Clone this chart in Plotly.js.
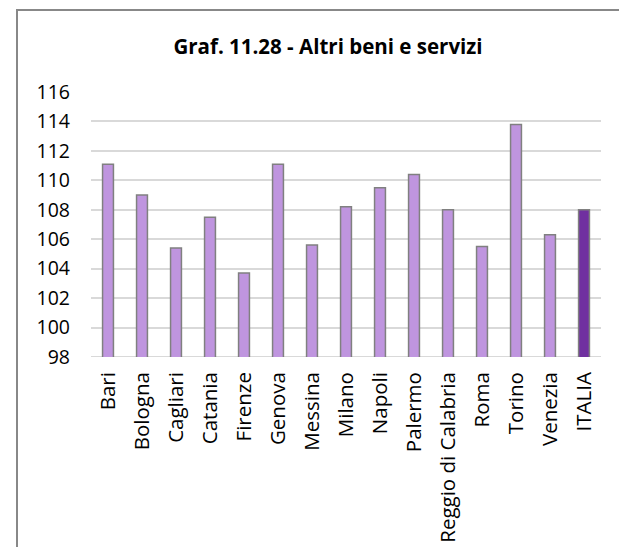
<!DOCTYPE html>
<html>
<head>
<meta charset="utf-8">
<script src="https://cdn.plot.ly/plotly-3.0.1.min.js"></script>
<style>
html,body{margin:0;padding:0;background:#fff;overflow:hidden;width:619px;height:547px;}
#wrap{position:relative;width:619px;height:547px;overflow:hidden;}
#chart{position:absolute;left:0;top:0;width:619px;height:547px;}
#cover{position:absolute;left:604px;top:0;width:15px;height:90px;background:#fff;z-index:5;pointer-events:none;}
#frame{position:absolute;left:16px;top:9px;width:800px;height:800px;border-left:2px solid #888;border-top:2px solid #888;pointer-events:none;z-index:6;}
</style>
</head>
<body>
<div id="wrap">
<div id="chart"></div>
<div id="cover"></div>
<div id="frame"></div>
</div>
<script>
const categories = ["Bari","Bologna","Cagliari","Catania","Firenze","Genova","Messina","Milano","Napoli","Palermo","Reggio di Calabria","Roma","Torino","Venezia","ITALIA"];
const values = [111.1, 109.0, 105.4, 107.5, 103.7, 111.1, 105.6, 108.2, 109.5, 110.4, 108.0, 105.5, 113.8, 106.3, 108.0];
const yTicks = [98,100,102,104,106,108,110,112,114,116];
const titleText = "Graf. 11.28 - Altri beni e servizi";

const barColors = categories.map(c => c === "ITALIA" ? "#7030A0" : "#BF95DF");

const trace = {
  type: "bar",
  x: categories,
  y: values,
  width: 0.32,
  marker: {color: barColors, line: {color: "#808080", width: 1.5}},
  hoverinfo: "x+y"
};

const layout = {
  width: 619, height: 547,
  margin: {l: 91, r: 18, t: 92, b: 190},
  paper_bgcolor: "rgba(0,0,0,0)", plot_bgcolor: "#fff",
  showlegend: false,
  font: {family: "Open Sans, sans-serif", color: "#000", size: 17},
  title: {text: "<b>" + titleText + "</b>", x: 328/619, xref: "container", xanchor: "center", y: 1 - 47/547, yref: "container", yanchor: "middle", font: {size: 20.5, family: "Open Sans, sans-serif", color: "#000"}},
  xaxis: {
    type: "category",
    tickangle: -90,
    showgrid: false,
    showline: false,
    ticks: "",
    ticklabelstandoff: 10,
    tickfont: {size: 20.5},
    fixedrange: true
  },
  yaxis: {
    range: [98, 116],
    tickvals: yTicks,
    ticktext: yTicks.map(String),
    showgrid: true,
    gridcolor: "#D9D9D9",
    gridwidth: 2,
    zeroline: false,
    showline: false,
    ticks: "",
    ticklabelstandoff: 20,
    tickfont: {size: 19.5},
    fixedrange: true
  },
  shapes: [
    {type: "line", xref: "paper", yref: "y", x0: 0, x1: 1, y0: 98, y1: 98, line: {color: "#D9D9D9", width: 2}, layer: "below"}
  ]
};

Plotly.newPlot("chart", [trace], layout, {displayModeBar: false, staticPlot: true});
</script>
</body>
</html>
